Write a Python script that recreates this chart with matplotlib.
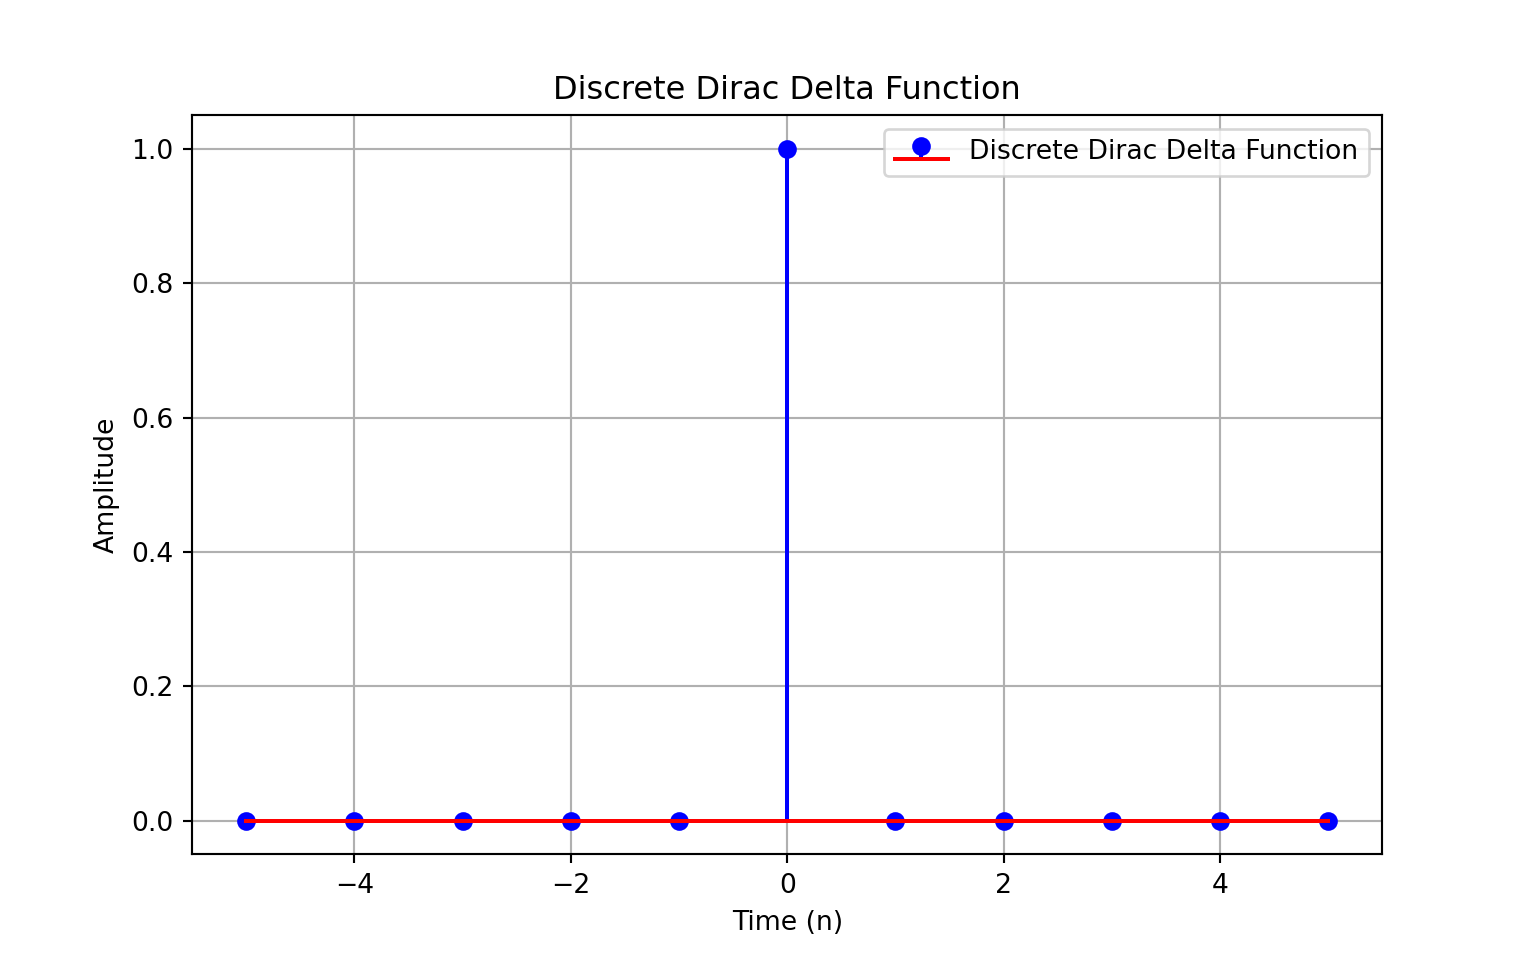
import numpy as np
import matplotlib
matplotlib.use("Agg")
import matplotlib.pyplot as plt

n = [-5, -4, -3, -2, -1, 0, 1, 2, 3, 4, 5]
delta = [0, 0, 0, 0, 0, 1, 0, 0, 0, 0, 0]

plt.figure(figsize=(8, 5))
plt.stem(n, delta, linefmt='b-', markerfmt='bo', basefmt='r-',
         label='Discrete Dirac Delta Function')
plt.title('Discrete Dirac Delta Function')
plt.xlabel('Time (n)')
plt.ylabel('Amplitude')
plt.grid(True)
plt.legend()
plt.savefig('out.png', dpi=192)
